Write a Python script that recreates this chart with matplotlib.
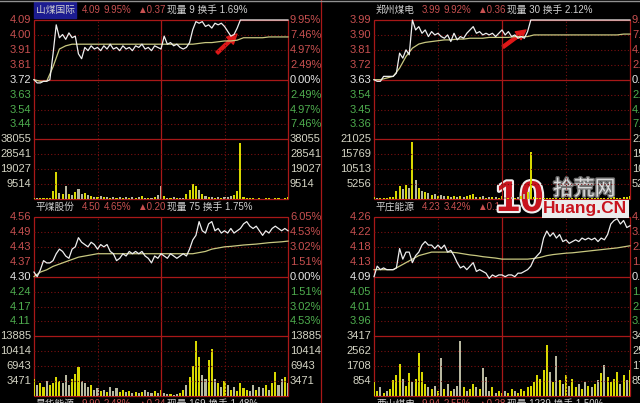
import numpy as np
import matplotlib
matplotlib.use('Agg')
import matplotlib.pyplot as plt
import matplotlib.patheffects as pe
from matplotlib.patches import Rectangle

plt.rcParams['font.family'] = ['Liberation Sans', 'Noto Sans CJK SC', 'DejaVu Sans']

# ---------------- data (3-min price/volume samples, 6-min average) ----------------
# 山煤国际
sm_price = [3.72, 3.70, 3.70, 3.71, 3.71, 3.72, 3.88, 4.06, 3.98, 4.00,
            3.97, 4.01, 3.98, 3.99, 3.88, 3.85, 3.92, 3.90, 3.93, 3.91,
            3.92, 3.90, 3.93, 3.91, 3.94, 3.91, 3.92, 3.90, 3.93, 3.91,
            3.92, 3.90, 3.93, 3.92, 3.94, 3.91, 3.92, 3.90, 3.93, 3.92,
            3.91, 3.99, 3.94, 3.95, 3.93, 3.94, 3.92, 3.91, 3.92, 3.95,
            4.03, 4.08, 4.07, 4.08, 4.05, 4.06, 4.04, 4.07, 4.06, 4.07,
            4.05, 4.02, 3.99, 4.00, 4.04, 4.09, 4.09, 4.09, 4.09, 4.09,
            4.09, 4.09, 4.09, 4.09, 4.09, 4.09, 4.09, 4.09, 4.09, 4.09,
            4.09]
sm_avg = [3.72, 3.71, 3.71, 3.80, 3.91, 3.93, 3.94,
          3.94, 3.94, 3.94, 3.94, 3.94, 3.94, 3.94, 3.94, 3.94, 3.94,
          3.94, 3.94, 3.94, 3.94, 3.94, 3.94, 3.94, 3.94, 3.94,
          3.945, 3.95, 3.95, 3.955, 3.96, 3.96, 3.965, 3.98, 3.98, 3.98,
          3.98, 3.985, 3.985, 3.985, 3.985]
sm_vol = [800, 600, 500, 700, 600, 900, 5000, 17400, 4000, 3500,
          8000, 3000, 2500, 4500, 6500, 3000, 4000, 2500, 2000, 1500,
          1200, 1800, 1000, 1500, 900, 1200, 800, 1000, 700, 1300,
          900, 1500, 700, 1000, 1800, 600, 900, 700, 1200, 2500,
          8400, 2000, 900, 700, 1000, 800, 600, 900, 3000, 6000,
          9700, 8000, 5500, 3000, 2000, 1500, 1000, 900, 1200, 800,
          1000, 1500, 2000, 2500, 5000, 36000, 1500, 600, 400, 500,
          300, 400, 300, 500, 400, 300, 400, 500, 300, 600,
          1500]
sm_plbl = ['4.09', '4.00', '3.91', '3.81', '3.72', '3.63', '3.54', '3.44']
sm_clbl = ['9.95%', '7.46%', '4.97%', '2.49%', '0.00%', '2.49%', '4.97%', '7.46%']
sm_vlbl = ['38055', '28541', '19027', '9514']
sm_head = ['山煤国际', '4.09', '9.95%', '▲0.37', '现量 9 换手 1.69%']

# 郑州煤电
zz_price = [3.63, 3.62, 3.62, 3.65, 3.65, 3.65, 3.65, 3.67, 3.79, 3.76,
            3.81, 3.78, 3.99, 3.93, 3.95, 3.91, 3.93, 3.89, 3.92, 3.90,
            3.91, 3.89, 3.88, 3.90, 3.86, 3.91, 3.87, 3.89, 3.88, 3.91,
            3.93, 3.95, 3.91, 3.92, 3.90, 3.91, 3.90, 3.91, 3.89, 3.91,
            3.93, 3.90, 3.92, 3.89, 3.90, 3.88, 3.89, 3.88, 3.92, 3.99,
            3.99, 3.99, 3.99, 3.99, 3.99, 3.99, 3.99, 3.99, 3.99, 3.99,
            3.99, 3.99, 3.99, 3.99, 3.99, 3.99, 3.99, 3.99, 3.99, 3.99,
            3.99, 3.99, 3.99, 3.99, 3.99, 3.99, 3.99, 3.99, 3.99, 3.99,
            3.99]
zz_avg = [3.63, 3.63, 3.64, 3.65, 3.70, 3.77, 3.82, 3.845, 3.855, 3.86,
          3.865, 3.87, 3.87, 3.875, 3.875, 3.88, 3.88, 3.88, 3.885, 3.885,
          3.885, 3.885, 3.89, 3.89, 3.89, 3.90,
          3.90, 3.90, 3.90, 3.90, 3.90, 3.90, 3.90, 3.90, 3.90, 3.90,
          3.90, 3.90, 3.90, 3.905, 3.905]
zz_vol = [600, 500, 400, 500, 400, 600, 800, 3000, 4500, 3500,
          5000, 4000, 20000, 6800, 4000, 3000, 2500, 2000, 1500, 1800,
          1200, 1500, 900, 1200, 800, 1000, 700, 1200, 600, 900,
          1500, 1800, 800, 600, 900, 500, 700, 600, 800, 500,
          1000, 700, 500, 600, 400, 800, 1200, 1800, 2500, 16400,
          800, 500, 300, 400, 300, 500, 400, 300, 500, 400,
          300, 400, 300, 500, 300, 400, 300, 300, 400, 300,
          400, 300, 500, 300, 400, 600, 500, 400, 600, 800,
          1200]
zz_plbl = ['3.99', '3.90', '3.81', '3.72', '3.63', '3.54', '3.45', '3.36']
zz_clbl = ['9.92%', '7.44%', '4.96%', '2.48%', '0.00%', '2.48%', '4.96%', '7.44%']
zz_vlbl = ['21025', '15769', '10513', '5256']
zz_head = ['郑州煤电', '3.99', '9.92%', '▲0.36', '现量 30 换手 2.12%']

# 平煤股份
pm_price = [4.32, 4.30, 4.33, 4.37, 4.36, 4.36, 4.37, 4.40, 4.42, 4.41,
            4.39, 4.38, 4.42, 4.43, 4.47, 4.45, 4.44, 4.43, 4.45, 4.44,
            4.42, 4.44, 4.43, 4.44, 4.41, 4.40, 4.37, 4.38, 4.40, 4.39,
            4.41, 4.40, 4.41, 4.40, 4.41, 4.39, 4.38, 4.36, 4.39, 4.38,
            4.40, 4.39, 4.38, 4.40, 4.39, 4.38, 4.39, 4.40, 4.39, 4.42,
            4.46, 4.48, 4.54, 4.50, 4.49, 4.53, 4.54, 4.50, 4.51, 4.49,
            4.50, 4.49, 4.51, 4.49, 4.50, 4.51, 4.53, 4.54, 4.52, 4.51,
            4.52, 4.50, 4.48, 4.50, 4.49, 4.51, 4.52, 4.51, 4.50, 4.51,
            4.50]
pm_avg = [4.30, 4.32, 4.33, 4.345, 4.355, 4.365, 4.375, 4.385, 4.39, 4.395,
          4.40, 4.40, 4.40, 4.40, 4.40, 4.40, 4.40, 4.40, 4.40, 4.40,
          4.40, 4.40, 4.40, 4.40, 4.40, 4.40,
          4.405, 4.41, 4.42, 4.425, 4.43, 4.432, 4.435, 4.438, 4.44, 4.442,
          4.445, 4.448, 4.45, 4.452, 4.455]
pm_vol = [4000, 2500, 3000, 2000, 3500, 2500, 3000, 4500, 3500, 3000,
          5000, 2500, 4000, 5200, 6700, 3500, 3000, 2000, 2500, 1500,
          1800, 1200, 1500, 1000, 2200, 1200, 1800, 1000, 1500, 900,
          1200, 800, 1000, 700, 900, 1500, 1000, 700, 1200, 800,
          1500, 600, 400, 500, 300, 500, 800, 1500, 2500, 4500,
          7000, 12700, 9000, 5000, 4000, 8300, 10900, 4000, 3000, 2000,
          3500, 2500, 1500, 2000, 1200, 3000, 1800, 1500, 1200, 2500,
          1500, 2000, 1800, 2500, 1500, 3000, 5500, 2500, 4000, 4500,
          3000]
pm_plbl = ['4.56', '4.49', '4.43', '4.37', '4.30', '4.24', '4.17', '4.11']
pm_clbl = ['6.05%', '4.53%', '3.02%', '1.51%', '0.00%', '1.51%', '3.02%', '4.53%']
pm_vlbl = ['13885', '10414', '6943', '3471']
pm_head = ['平煤股份', '4.50', '4.65%', '▲0.20', '现量 75 换手 1.75%']

# 平庄能源
pz_price = [4.09, 4.12, 4.11, 4.115, 4.11, 4.11, 4.11, 4.115, 4.17, 4.14,
            4.16, 4.16, 4.13, 4.15, 4.16, 4.18, 4.19, 4.18, 4.18, 4.17,
            4.18, 4.17, 4.18, 4.16, 4.165, 4.15, 4.13, 4.115, 4.12, 4.11,
            4.12, 4.13, 4.105, 4.11, 4.105, 4.10, 4.085, 4.095, 4.09, 4.095,
            4.095, 4.09, 4.095, 4.095, 4.09, 4.10, 4.10, 4.105, 4.11, 4.12,
            4.14, 4.15, 4.16, 4.20, 4.22, 4.205, 4.215, 4.20, 4.21, 4.19,
            4.195, 4.185, 4.19, 4.195, 4.19, 4.20, 4.195, 4.20, 4.195, 4.20,
            4.19, 4.20, 4.195, 4.21, 4.24, 4.25, 4.255, 4.24, 4.25, 4.23,
            4.235]
pz_avg = [4.11, 4.11, 4.11, 4.11, 4.12, 4.13, 4.14, 4.15, 4.155, 4.16,
          4.16, 4.16, 4.16, 4.158, 4.155, 4.152, 4.15, 4.147, 4.145, 4.143,
          4.14, 4.14, 4.14, 4.14, 4.14, 4.142, 4.145, 4.15, 4.153, 4.155,
          4.157, 4.158, 4.16, 4.162, 4.164, 4.166, 4.168, 4.17, 4.172, 4.175,
          4.178]
pz_vol = [800, 300, 500, 200, 300, 400, 900, 1200, 1820, 1000,
          600, 1300, 800, 1000, 2450, 1400, 700, 500, 400, 600,
          300, 2150, 400, 700, 300, 400, 600, 3130, 500, 300,
          400, 700, 500, 400, 1600, 1100, 300, 500, 200, 300,
          200, 300, 200, 400, 300, 200, 400, 300, 500, 600,
          800, 1200, 1000, 1500, 2900, 1400, 800, 2280, 900, 700,
          1200, 600, 1000, 500, 700, 400, 800, 600, 500, 700,
          900, 1300, 1800, 1100, 800, 1000, 1400, 700, 1200, 900,
          1500]
pz_plbl = ['4.26', '4.22', '4.18', '4.13', '4.09', '4.05', '4.01', '3.96']
pz_clbl = ['4.16%', '3.12%', '2.08%', '1.04%', '0.00%', '1.04%', '2.08%', '3.12%']
pz_vlbl = ['3417', '2562', '1708', '854']
pz_head = ['平庄能源', '4.23', '3.42%', '▲0.1', '']

# next row, only its header shows at the bottom edge
hh_head = ['昊华能源', '9.90', '2.48%', '▲0.24', '现量 169 换手 1.48%']
xs_head = ['西山煤电', '9.94', '2.55%', '▲0.28', '现量 1239 换手 1.50%']

# ---------------- colours ----------------
RED = '#a81818'
GRID = '#7a1010'
UP = '#c85050'
DOWN = '#4fae4f'
FLAT = '#e6e6e6'
VLBL = '#d4d4c4'
GRAYTXT = '#d0d0d0'

W, H = 640, 403
RH = 14.92

fig = plt.figure(figsize=(6.4, 4.03), dpi=100, facecolor='black')
bg = fig.add_axes([0, 0, 1, 1])
bg.set_xlim(0, W)
bg.set_ylim(H, 0)
bg.axis('off')
bg.set_facecolor('black')


def px_box(x0, y0, x1, y1):
    return [x0 / W, 1 - y1 / H, (x1 - x0) / W, (y1 - y0) / H]


def header(x0, y, head, boxed=False):
    name, pr, pct, chg, rest = head
    if boxed:
        bg.add_patch(Rectangle((x0, y - 8), 42, 16, color='#1c1c90', zorder=2))
    bg.text(x0 + 2, y, name, fontsize=7, color=GRAYTXT, va='center', zorder=3)
    bg.text(x0 + 48, y, pr, fontsize=7, color=UP, va='center')
    bg.text(x0 + 70, y, pct, fontsize=7, color=UP, va='center')
    bg.text(x0 + 103, y, chg, fontsize=7, color=UP, va='center')
    bg.text(x0 + 133, y, rest, fontsize=7, color=GRAYTXT, va='center')


def panel(x0, x1, y0, price, avg, vol, plbl, clbl, vlbl):
    top = float(plbl[0])
    prev = float(plbl[4])
    step = (top - prev) / 4
    vmax = float(vlbl[0])
    ax = fig.add_axes(px_box(x0, y0, x1, y0 + 8 * RH))
    av = fig.add_axes(px_box(x0, y0 + 8 * RH, x1, y0 + 12 * RH))
    for a in (ax, av):
        a.set_xlim(0, 240)
        a.axis('off')
        a.patch.set_alpha(0)
        for m in (60, 180):
            a.axvline(m, color=GRID, lw=0.8, ls=(0, (1, 2)))
        a.axvline(120, color=RED, lw=0.9)
    ax.set_ylim(prev - 4 * step, prev + 4 * step)
    av.set_ylim(0, vmax)

    for k in range(1, 8):
        lvl = prev + (4 - k) * step
        if k == 4:
            ax.axhline(lvl, color=RED, lw=0.9)
        else:
            ax.axhline(lvl, color=GRID, lw=0.8, ls=(0, (1, 2)))
    for k in range(1, 4):
        av.axhline(vmax * (4 - k) / 4, color=GRID, lw=0.8, ls=(0, (1, 2)))

    t = np.linspace(0, 240, len(price))
    ta = np.linspace(0, 240, len(avg))
    ax.plot(ta, avg, color='#c8c880', lw=0.9, clip_on=False, zorder=3)
    ax.plot(t, price, color='#eeeeee', lw=0.9, clip_on=False, zorder=4)

    tv = np.linspace(0, 240, len(vol))
    cols = ['#d8d800' if i == 0 or price[i] >= price[i - 1] else '#b8b8a0'
            for i in range(len(vol))]
    av.bar(tv, vol, width=2.0, color=cols, linewidth=0)

    # frame
    bg.add_patch(Rectangle((x0, y0), x1 - x0, 12 * RH, fill=False,
                           edgecolor=RED, lw=0.9, zorder=1))
    bg.plot([x0, x1], [y0 + 8 * RH, y0 + 8 * RH], color=RED, lw=0.9, zorder=1)

    for k in range(8):
        y = y0 + k * RH
        c = UP if k < 4 else (FLAT if k == 4 else DOWN)
        bg.text(x0 - 3, y, plbl[k], ha='right', va='center', fontsize=8, color=c)
        bg.text(x1 + 2, y, clbl[k], ha='left', va='center', fontsize=8, color=c)
    for k in range(4):
        y = y0 + (8 + k) * RH
        bg.text(x0 - 3, y, vlbl[k], ha='right', va='center', fontsize=8, color=VLBL)
        bg.text(x1 + 2, y, vlbl[k], ha='left', va='center', fontsize=8, color=VLBL)


panel(34, 288, 20, sm_price, sm_avg, sm_vol, sm_plbl, sm_clbl, sm_vlbl)
panel(374, 630, 20, zz_price, zz_avg, zz_vol, zz_plbl, zz_clbl, zz_vlbl)
panel(34, 288, 217, pm_price, pm_avg, pm_vol, pm_plbl, pm_clbl, pm_vlbl)
panel(374, 630, 217, pz_price, pz_avg, pz_vol, pz_plbl, pz_clbl, pz_vlbl)

header(34, 10, sm_head, boxed=True)
header(374, 10, zz_head)
header(34, 207, pm_head)
header(374, 207, pz_head)
header(34, 404, hh_head)
header(374, 404, xs_head)

# separators
bg.plot([321, 321], [0, H], color=RED, lw=0.9)
bg.plot([0, W], [0.5, 0.5], color='#909090', lw=1)

# arrows
bg.annotate('', xy=(237, 34), xytext=(217, 53),
            arrowprops=dict(color='#e01818', width=2.2, headwidth=7, headlength=7))
bg.annotate('', xy=(526, 30), xytext=(503, 47),
            arrowprops=dict(color='#e01818', width=2.2, headwidth=7, headlength=7))

# watermark
bg.text(496, 200, '10', fontsize=31, fontweight='bold', color='#c8141e', va='center',
        ha='left', zorder=10,
        path_effects=[pe.withStroke(linewidth=3, foreground='#f0f0f0')])
bg.text(553, 189, '拾荒网', fontsize=15, color='#dcdcdc', va='center', ha='left',
        zorder=10, path_effects=[pe.withStroke(linewidth=2, foreground='#707070')])
bg.text(543, 209, 'Huang.CN', fontsize=12.5, fontweight='bold', color='#c8141e',
        va='center', ha='left', zorder=10,
        bbox=dict(facecolor='#ececec', edgecolor='none', pad=1))

fig.savefig('out.png', dpi=100, facecolor='black')
